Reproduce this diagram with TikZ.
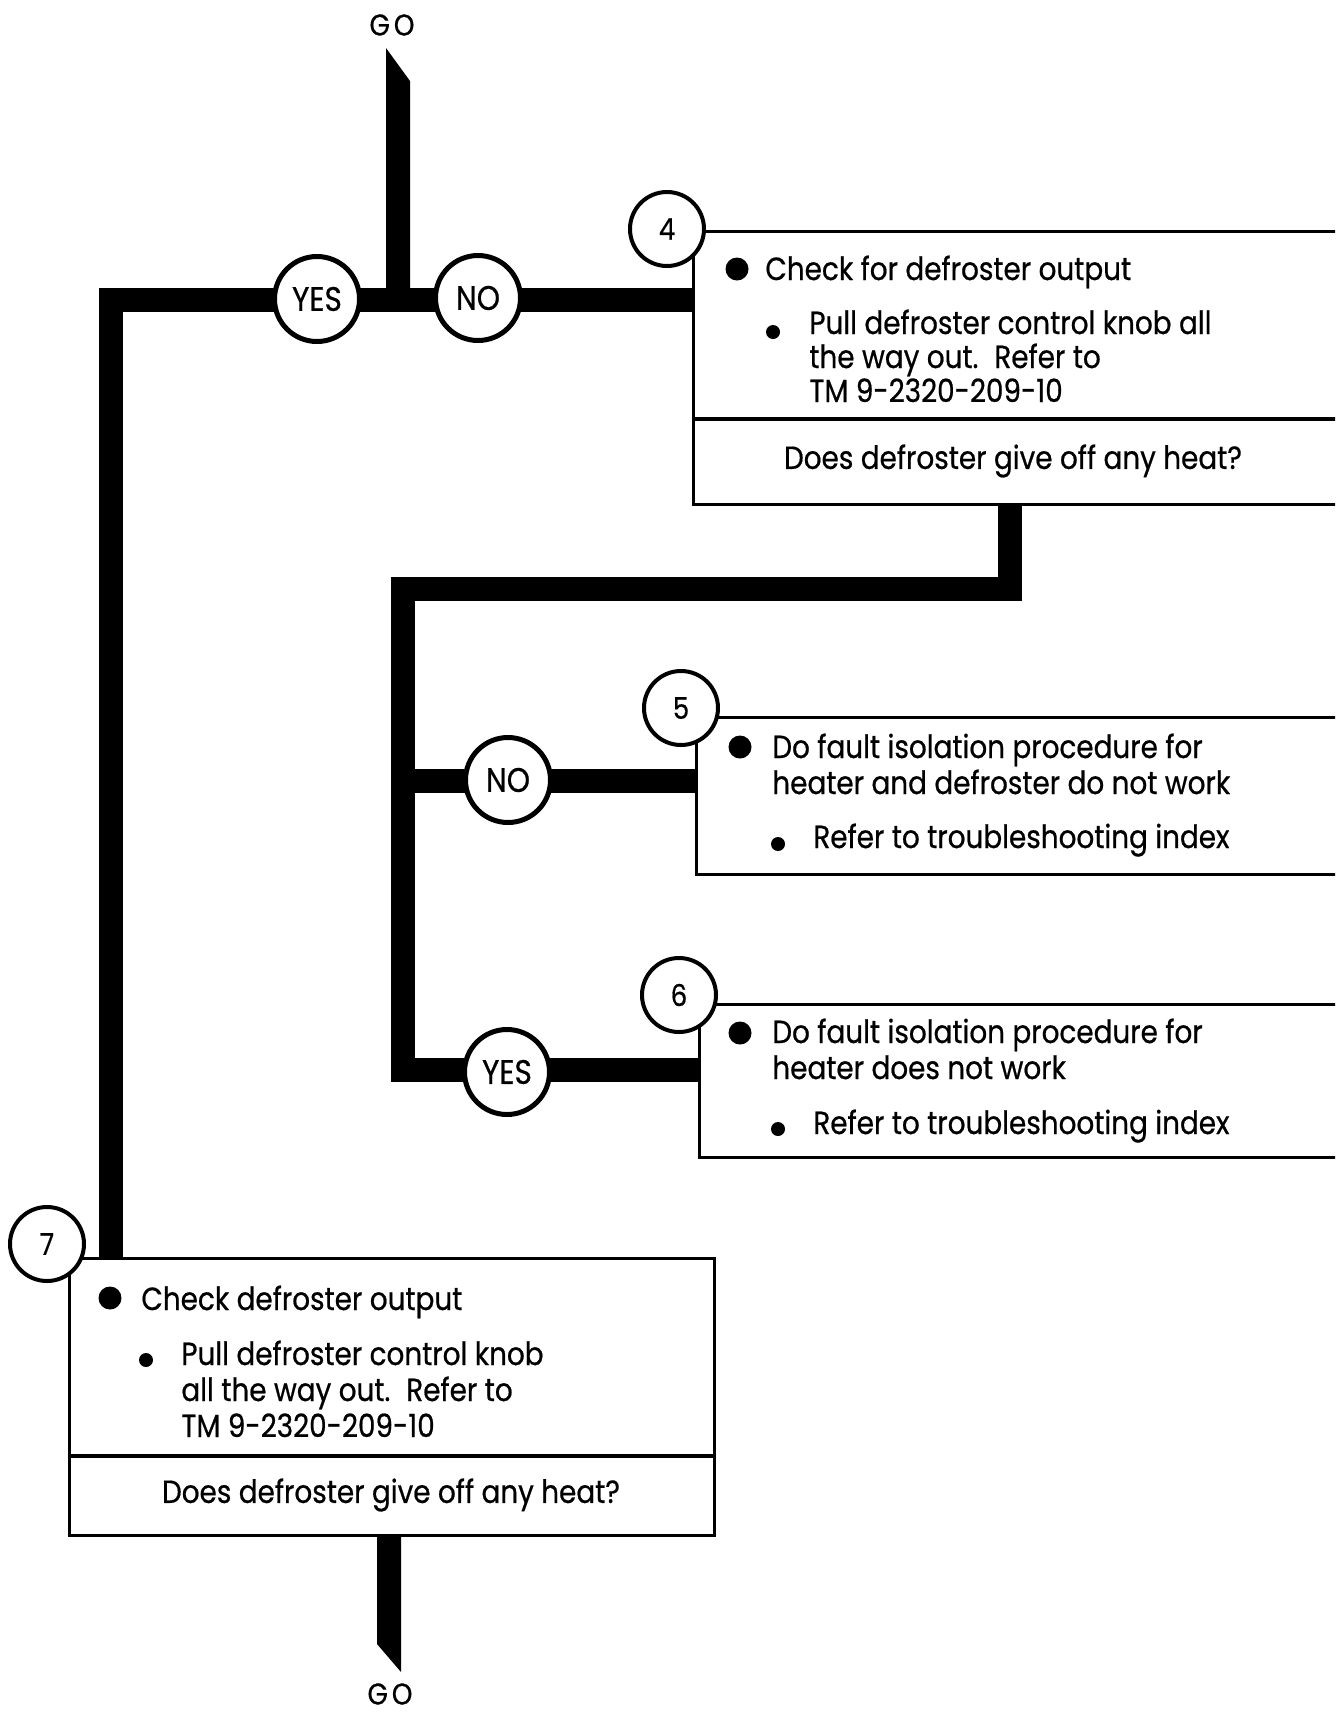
\documentclass[tikz,border=0pt]{standalone}
\usepackage{fontspec}
\setmainfont{Poppins}[FakeStretch=0.87, FakeBold=0.6]
\begin{document}
\begin{tikzpicture}[x=0.5pt,y=-0.5pt,
  flowline/.style={line width=12pt, line join=miter, line cap=butt},
  boxline/.style={line width=1.6pt},
  stepbox/.style={draw, line width=1.6pt, rectangle, anchor=north west, inner sep=0pt},
  yn/.style={circle, draw, line width=2.5pt, fill=white, minimum size=42.5pt, inner sep=0pt, font=\fontsize{17}{19}\selectfont},
  numc/.style={circle, draw, line width=2pt, fill=white, minimum size=37pt, inner sep=0pt, font=\fontsize{15}{17}\selectfont},
  txt/.style={anchor=base west, inner sep=0pt, font=\fontsize{16}{19}\selectfont},
  qtxt/.style={anchor=center, inner sep=0pt, font=\fontsize{16}{19}\selectfont},
  golabel/.style={inner sep=0pt, font=\fontsize{15}{17}\selectfont}
]
\useasboundingbox (0,0) rectangle (1335,1714);
\clip (0,0) rectangle (1335,1714);
\fill[white] (0,0) rectangle (1335,1714);

% boxes
\node[stepbox, minimum width=326.5pt, minimum height=136.5pt] (b4) at (692,230) {};
\node[stepbox, minimum width=325.5pt, minimum height=78.5pt] (b5) at (695,716) {};
\node[stepbox, minimum width=323.5pt, minimum height=76.5pt] (b6) at (698,1003) {};
\node[stepbox, minimum width=322.5pt, minimum height=138.5pt] (b7) at (68,1257) {};
\draw[boxline] (b4.west |- 0,419) -- (b4.east |- 0,419);
\draw[boxline] (b7.west |- 0,1456) -- (b7.east |- 0,1456);

% labels GO
\node[golabel] (go1) at (392,25) {G\kern2pt O};
\node[golabel] (go2) at (390,1694) {G\kern2pt O};

% junction coordinates
\coordinate (j1) at (111,300);
\coordinate (s2) at (1010,503);
\coordinate (j2) at (403,589);
\coordinate (j3) at (403,1070);
\coordinate (j4) at (403,781);

% top stem
\fill (386,48) -- (410,81) -- (410,300) -- (386,300) -- cycle;
% bottom stem
\fill (377,1534) -- (401,1534) -- (401,1672) -- (377,1644) -- cycle;

% main flow lines
\draw[flowline] (b7.north -| j1) -- (j1) -- (b4.west |- j1);
\draw[flowline] (s2) |- (j2) |- (b6.west |- j3);
\draw[flowline] (j4) -- (b5.west |- j4);

% decision circles
\node[yn] (yes1) at (317,299) {YES};
\node[yn] (no1) at (478,298) {NO};
\node[yn] (no2) at (508,780) {NO};
\node[yn] (yes2) at (507,1072) {YES};

% number circles
\node[numc] (n4) at (667,229) {4};
\node[numc] (n5) at (681,708) {5};
\node[numc] (n6) at (679,995) {6};
\node[numc] (n7) at (47,1244) {7};

% box 4 text
\fill (737,269) circle (11.5);
\node[txt] (t41) at (765,280) {Check for defroster output};
\fill (773,332) circle (7);
\node[txt] (t42) at (809,334) {Pull defroster control knob all};
\node[txt] (t43) at (809,368) {the way out.\enspace Refer to};
\node[txt] (t44) at (809,402) {TM 9-2320-209-10};
\node[qtxt] (t45) at (1013,461) {Does defroster give off any heat?};

% box 5 text
\fill (740,747) circle (11.5);
\node[txt] (t51) at (772,758) {Do fault isolation procedure for};
\node[txt] (t52) at (772,794) {heater and defroster do not work};
\fill (778,844) circle (7);
\node[txt] (t53) at (813,848) {Refer to troubleshooting index};

% box 6 text
\fill (740,1033) circle (11.5);
\node[txt] (t61) at (772,1043) {Do fault isolation procedure for};
\node[txt] (t62) at (772,1079) {heater does not work};
\fill (778,1129) circle (7);
\node[txt] (t63) at (813,1134) {Refer to troubleshooting index};

% box 7 text
\fill (110,1298) circle (11.5);
\node[txt] (t71) at (141,1310) {Check defroster output};
\fill (146,1360) circle (7);
\node[txt] (t72) at (181,1365) {Pull defroster control knob};
\node[txt] (t73) at (181,1401) {all the way out.\enspace Refer to};
\node[txt] (t74) at (181,1437) {TM 9-2320-209-10};
\node[qtxt] (t75) at (391,1495) {Does defroster give off any heat?};
\end{tikzpicture}
\end{document}
